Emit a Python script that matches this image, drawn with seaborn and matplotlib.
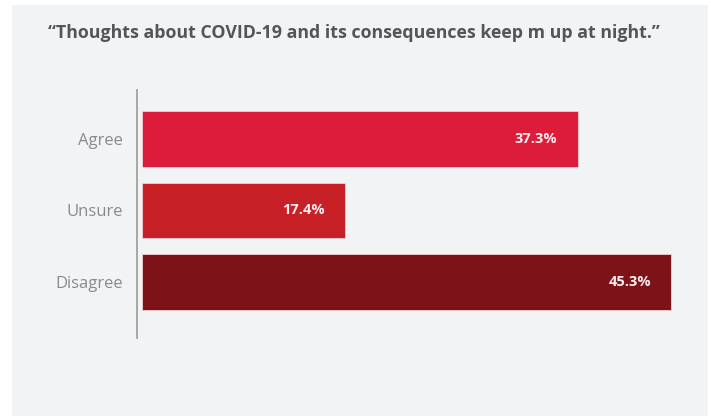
import matplotlib
matplotlib.use("Agg")
import matplotlib.pyplot as plt
from matplotlib.patches import Rectangle
import seaborn as sns
import pandas as pd

# Survey responses
categories = ["Agree", "Unsure", "Disagree"]
shares = [37.3, 17.4, 45.3]
bar_colors = ["#dc1c3a", "#c82027", "#7d1318"]
title = "\u201cThoughts about COVID-19 and its consequences keep m up at night.\u201d"

sns.set_theme(style="white")
plt.rcParams["font.family"] = ["Open Sans", "DejaVu Sans"]

W, H = 711, 416
fig = plt.figure(figsize=(W / 100, H / 100), dpi=100, facecolor="white")

# light grey card behind the chart
fig.patches.append(Rectangle((12 / W, 0), (708 - 12) / W, 411 / H,
                             transform=fig.transFigure, facecolor="#f2f3f5",
                             edgecolor="none", zorder=-10))

ax = fig.add_axes([137 / W, 1 - 338 / H, (705 - 137) / W, (338 - 90) / H])
ax.set_facecolor("none")
ax.set_zorder(1)

df = pd.DataFrame({"response": categories, "share": shares})
sns.barplot(data=df, x="share", y="response", hue="response",
            palette=bar_colors, orient="h", width=0.78, legend=False,
            saturation=1, linewidth=0.6, edgecolor="#f0d0d4", ax=ax)

px_per_unit = (671 - 142) / 45.3
ax.set_xlim(-5 / px_per_unit, (705 - 142) / px_per_unit)
ax.set_ylim(2 + 56 / 71.5, -49 / 71.5)

for i, v in enumerate(shares):
    ax.text(v - 20 / px_per_unit, i, f"{v:.1f}%", ha="right", va="center",
            color="#fbeef0", fontsize=10.5, fontweight="bold")

for s in ["top", "right", "bottom"]:
    ax.spines[s].set_visible(False)
ax.spines["left"].set_color("#9a9a9a")
ax.spines["left"].set_linewidth(1.2)
ax.set_xticks([])
ax.set_xlabel("")
ax.set_ylabel("")
ax.tick_params(axis="y", length=0, pad=10, labelsize=12, labelcolor="#8a8a8a")

fig.text(48 / W, 1 - 33 / H, title, ha="left", va="center",
         fontsize=12.8, fontweight="bold", color="#555555")

fig.savefig("out.png", dpi=100, facecolor="white")
